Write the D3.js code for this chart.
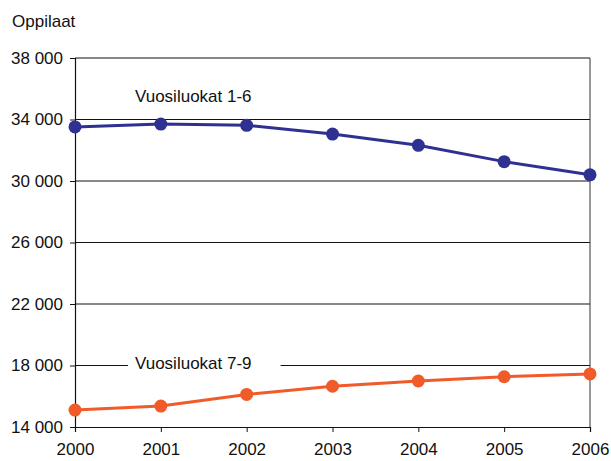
<!DOCTYPE html>
<html><head><meta charset="utf-8">
<script src="https://cdn.jsdelivr.net/npm/d3@7"></script>
<style>body{margin:0;background:#fff}svg text{font-family:"Liberation Sans",Arial,sans-serif;fill:#111}</style>
</head><body><svg id="c" width="611" height="461"></svg>
<script>
const years = [2000, 2001, 2002, 2003, 2004, 2005, 2006];
const grades16 = [33520, 33700, 33620, 33050, 32320, 31260, 30400];
const grades79 = [15100, 15360, 16120, 16650, 16990, 17270, 17450];
const yTicks = [14000, 18000, 22000, 26000, 30000, 34000, 38000];
const seriesNames = ["Vuosiluokat 1-6", "Vuosiluokat 7-9"];
const yTitle = "Oppilaat";

const svg = d3.select("#c");
const m = {l: 75, r: 590, t: 58, b: 427};
const x = d3.scaleLinear().domain([2000, 2006]).range([m.l, m.r]);
const y = d3.scaleLinear().domain([14000, 38000]).range([m.b, m.t]);
const fmt = v => d3.format(",")(v).replace(",", " ");
const FS = "17px";

// gridlines
svg.append("g").selectAll("line").data(yTicks.filter(v => v > 14000)).join("line")
  .attr("x1", m.l).attr("x2", m.r).attr("y1", d => y(d)).attr("y2", d => y(d))
  .attr("stroke", "#111").attr("stroke-width", 1);
// right border
svg.append("line").attr("x1", m.r).attr("x2", m.r).attr("y1", m.t).attr("y2", m.b)
  .attr("stroke", "#333").attr("stroke-width", 1);

// axes
const yAxis = svg.append("g").attr("transform", `translate(${m.l},0)`)
  .call(d3.axisLeft(y).tickValues(yTicks).tickFormat(fmt).tickSize(5).tickPadding(7));
const xAxis = svg.append("g").attr("transform", `translate(0,${m.b})`)
  .call(d3.axisBottom(x).tickValues(years).tickFormat(d3.format("d")).tickSize(5).tickPadding(8));
[yAxis, xAxis].forEach(a => {
  a.select(".domain").attr("stroke", "#111").attr("stroke-width", 1.2);
  a.selectAll(".tick line").attr("stroke", "#111");
  a.selectAll("text").style("font-size", FS).attr("fill", "#111");
});
xAxis.selectAll("text").attr("dy", "0.9em");

svg.append("text").attr("x", 12).attr("y", 27).style("font-size", FS).text(yTitle);

// label boxes
const labels = [
  {name: seriesNames[0], x: 135, y: 102},
  {name: seriesNames[1], x: 135, y: 369}
];
labels.forEach(l => {
  const g = svg.append("g");
  const r = g.append("rect").attr("fill", "#fff");
  const t = g.append("text").attr("x", l.x).attr("y", l.y).style("font-size", FS).text(l.name);
  const bb = t.node().getBBox();
  r.attr("x", bb.x - 7).attr("y", bb.y - 2).attr("width", bb.width + 36).attr("height", bb.height + 4);
});

const series = [
  {vals: grades16, color: "#2e3192"},
  {vals: grades79, color: "#f15a29"}
];
const line = d3.line().x((d, i) => x(years[i])).y(d => y(d));
series.forEach(s => {
  svg.append("path").datum(s.vals).attr("d", line).attr("fill", "none")
    .attr("stroke", s.color).attr("stroke-width", 3);
  svg.append("g").selectAll("circle").data(s.vals).join("circle")
    .attr("cx", (d, i) => x(years[i])).attr("cy", d => y(d)).attr("r", 6.5).attr("fill", s.color);
});
</script></body></html>
